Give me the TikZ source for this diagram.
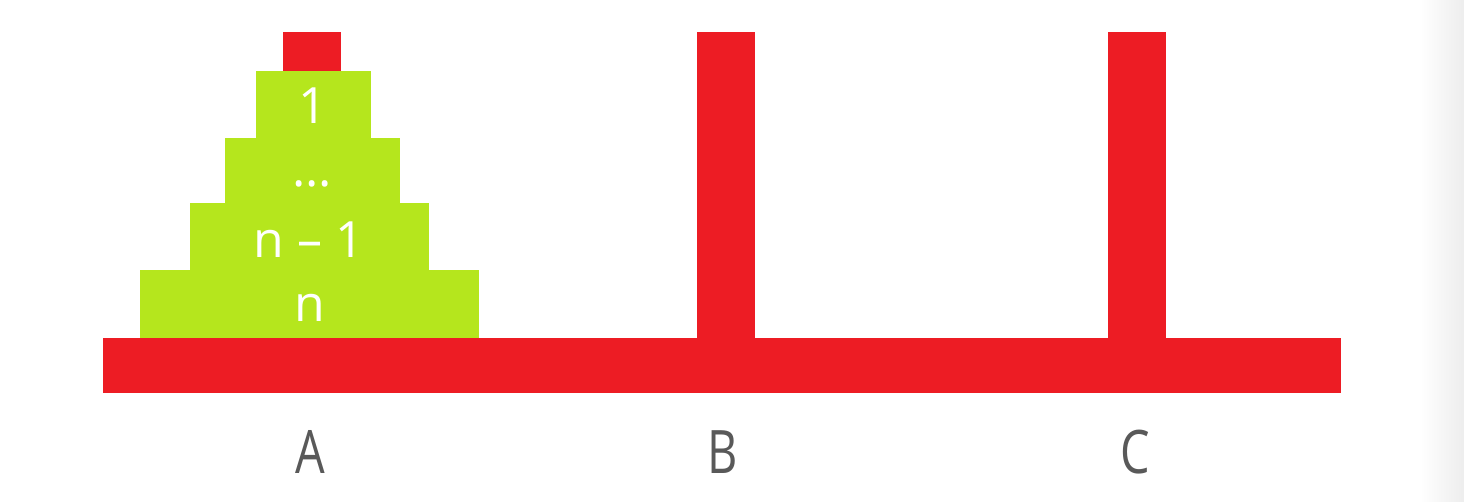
\documentclass[tikz,border=0pt]{standalone}
\usepackage{fontspec}
\setmainfont{Open Sans}
\definecolor{pegred}{HTML}{ED1C24}
\definecolor{diskgreen}{HTML}{B5E61D}
\definecolor{labgrey}{HTML}{595959}
\begin{document}
\begin{tikzpicture}[x=1pt,y=-1pt,
  peg/.style={fill=pegred,draw=none},
  disk/.style={fill=diskgreen,draw=none},
  disktext/.style={text=white,font=\fontsize{50}{50}\selectfont,inner sep=0pt},
  pegname/.style={text=labgrey,font=\fontsize{60}{60}\selectfont,xscale=0.78,inner sep=0pt}]
\useasboundingbox (0,0) rectangle (1464,502);
\fill[white] (0,0) rectangle (1464,502);
\shade[left color=white,right color=black!7,draw=none] (1420,0) rectangle (1464,502);
% base and pegs
\fill[peg] (103,338) rectangle (1341,393);
\fill[peg] (283,32) rectangle (341,71);
\fill[peg] (697,32) rectangle (755,339);
\fill[peg] (1108,32) rectangle (1166,339);
% disks
\fill[disk] (256,71) rectangle (371,138.5);
\fill[disk] (225,138) rectangle (400,204);
\fill[disk] (190,203.5) rectangle (429,270.5);
\fill[disk] (140,270) rectangle (479,338.5);
\node[disktext] (d1) at (313,106) {1};
\node[disktext] (d2) at (312,184) {...};
\node[disktext] (d3) at (309,240) {n – 1};
\node[disktext] (d4) at (310,308) {n};
% labels
\node[pegname] (A) at (310,452) {A};
\node[pegname] (B) at (723,452) {B};
\node[pegname] (C) at (1135,452) {C};
\end{tikzpicture}
\end{document}
